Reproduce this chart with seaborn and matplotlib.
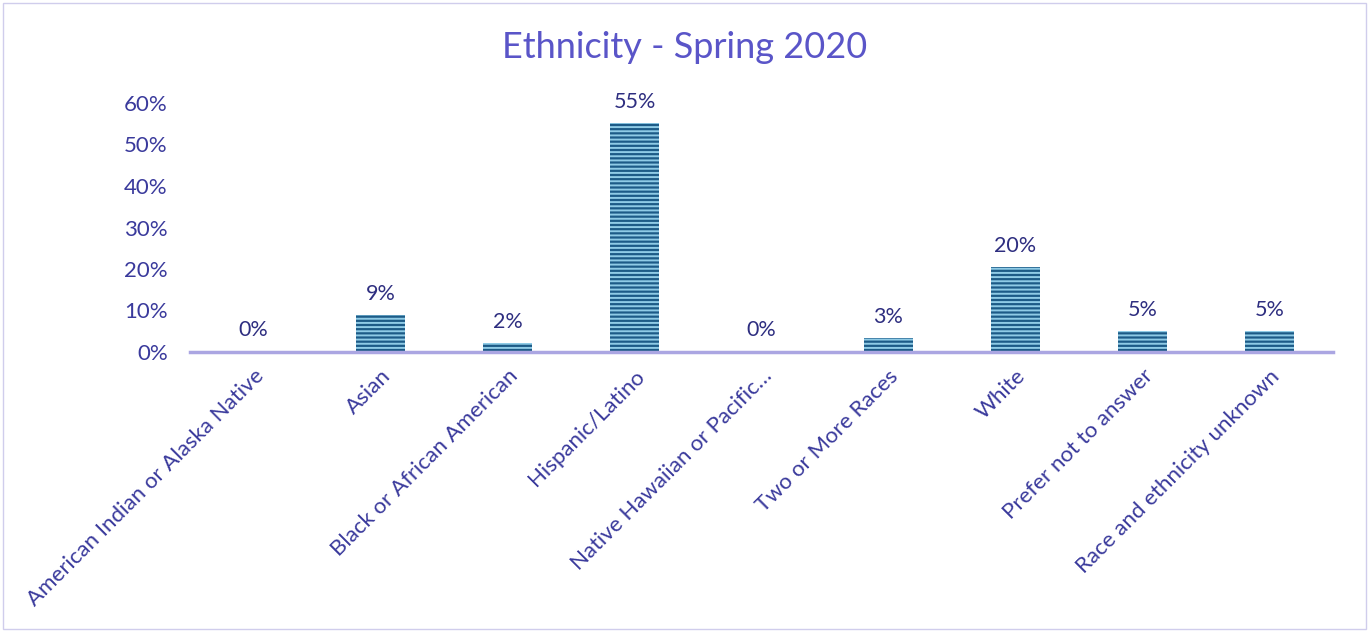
import matplotlib
matplotlib.use("Agg")
import matplotlib.pyplot as plt
import seaborn as sns
import pandas as pd
from matplotlib.patches import Rectangle

categories = ["American Indian or Alaska Native", "Asian", "Black or African American",
              "Hispanic/Latino", "Native Hawaiian or Pacific…", "Two or More Races",
              "White", "Prefer not to answer", "Race and ethnicity unknown"]
values = [0.003, 0.089, 0.022, 0.552, 0.003, 0.034, 0.205, 0.051, 0.051]
labels = ["0%", "9%", "2%", "55%", "0%", "3%", "20%", "5%", "5%"]
yticks = [0, 0.1, 0.2, 0.3, 0.4, 0.5, 0.6]
yticklabels = ["0%", "10%", "20%", "30%", "40%", "50%", "60%"]

sns.set_theme(style="white")
plt.rcParams["font.family"] = ["Lato", "DejaVu Sans"]
plt.rcParams["hatch.linewidth"] = 1.4

df = pd.DataFrame({"cat": categories, "val": values})

fig = plt.figure(figsize=(13.69, 6.32), dpi=100)
ax = fig.add_axes([190 / 1369, 1 - 352 / 632, (1333 - 190) / 1369, (352 - 103) / 632])

sns.barplot(data=df, x="cat", y="val", ax=ax, color="#1d5b87", width=0.385,
            saturation=1)
for p in ax.patches:
    p.set_hatch("----")
    p.set_edgecolor("#8fcbe6")
    p.set_linewidth(0)

for i, (v, lab) in enumerate(zip(values, labels)):
    ax.annotate(lab, (i, v), xytext=(0, 8), textcoords="offset points",
                ha="center", va="bottom", fontsize=15.5, color="#2e2e80")

ax.set_ylim(0, 0.6)
ax.set_xlim(-0.5, len(categories) - 0.5)
ax.set_yticks(yticks)
ax.set_yticklabels(yticklabels, fontsize=16, color="#3a3a9c")
ax.set_xticks(range(len(categories)))
ax.set_xticklabels(categories, rotation=45, ha="right", rotation_mode="anchor",
                   fontsize=16, color="#3a3a9c")
ax.tick_params(axis="x", length=0, pad=10)
ax.tick_params(axis="y", length=0, pad=16)
ax.set_xlabel("")
ax.set_ylabel("")
for s in ["top", "right", "left"]:
    ax.spines[s].set_visible(False)
ax.spines["bottom"].set_color("#aba6e2")
ax.spines["bottom"].set_linewidth(2.5)
ax.set_facecolor("none")

fig.text(0.5, 1 - 48 / 632, "Ethnicity - Spring 2020", ha="center", va="center",
         fontsize=26, color="#5a55c8")

fig.patches.append(Rectangle((3 / 1369, 3 / 632), 1 - 6 / 1369, 1 - 6 / 632,
                             transform=fig.transFigure, fill=False,
                             edgecolor="#d0cdec", linewidth=1))

fig.savefig("out.png", dpi=100)
